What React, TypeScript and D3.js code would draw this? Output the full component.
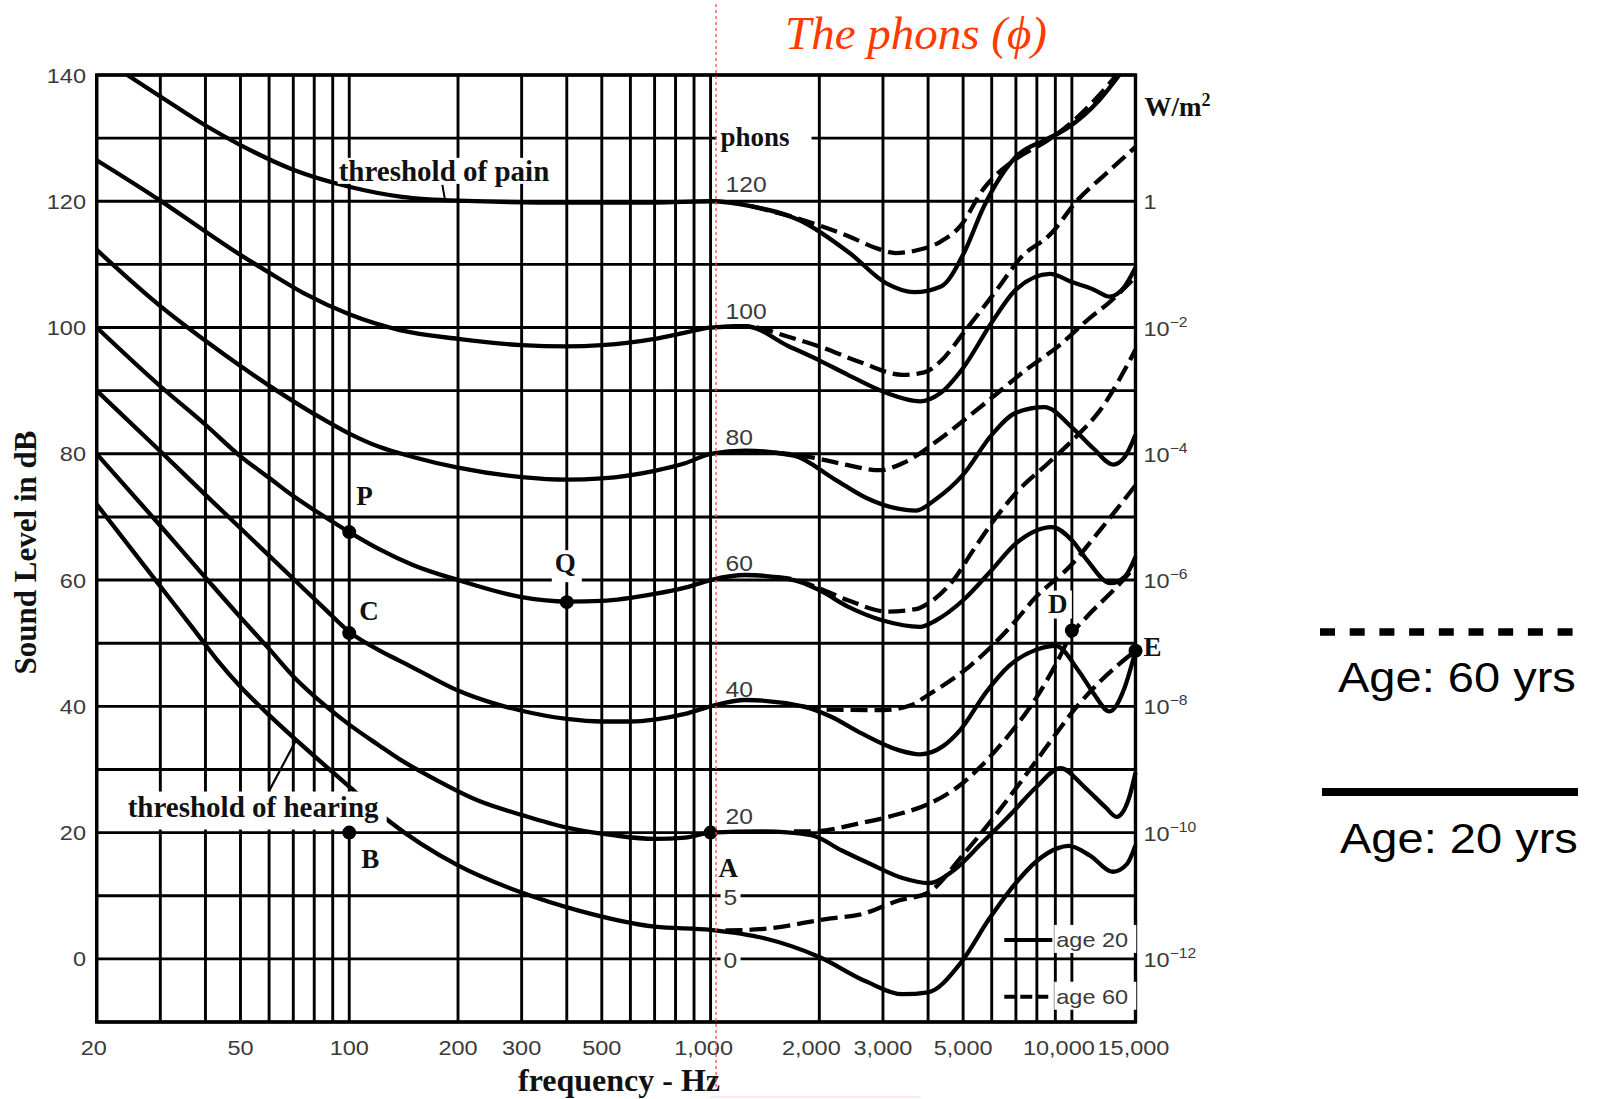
import React from "react";
import * as d3 from "d3";

type Pt = [number, number];

// ---------- axis data ----------
const gridFreqs = [20, 30, 40, 50, 60, 70, 80, 90, 100, 200, 300, 400, 500, 600, 700, 800, 900, 1000, 2000, 3000, 4000, 5000, 6000, 7000, 8000, 9000, 10000, 15000];
const gridLevels = [-10, 0, 10, 20, 30, 40, 50, 60, 70, 80, 90, 100, 110, 120, 130, 140];
const freqTicks = [20, 50, 100, 200, 300, 500, 1000, 2000, 3000, 5000, 10000, 15000];
const freqTickLabels = ["20", "50", "100", "200", "300", "500", "1,000", "2,000", "3,000", "5,000", "10,000", "15,000"];
const levelTicks = [0, 20, 40, 60, 80, 100, 120, 140];
const intensityLevels = [120, 100, 80, 60, 40, 20, 0];
const intensityBase = ["1", "10", "10", "10", "10", "10", "10"];
const intensityExp = ["", "\u22122", "\u22124", "\u22126", "\u22128", "\u221210", "\u221212"];
const phonLabelLevels = [120, 100, 80, 60, 40, 20];
const phonLabelTexts = ["120", "100", "80", "60", "40", "20"];

// ---------- curves: age 20 (solid) ----------
const age20_120: Pt[] = [[24.3, 140], [30, 136.6], [40, 132], [50, 128.9], [70, 125], [100, 122.3], [140, 120.7], [200, 120.1], [400, 119.8], [700, 119.8], [1000, 120], [1300, 119.2], [1764, 117], [2426, 111.8], [3067, 107], [3663, 105.6], [4343, 106.5], [5025, 111.8], [5700, 119.1], [7042, 127.2], [8500, 129.8], [9660, 131.5], [11900, 136], [13530, 140]];
const age20_100: Pt[] = [[20, 126.5], [30, 120.1], [40, 115.2], [50, 111.5], [60, 108.7], [75, 105.4], [100, 102.1], [138, 99.6], [200, 98.2], [300, 97.2], [400, 97], [500, 97.2], [700, 98.2], [850, 99.2], [1000, 100], [1250, 100.2], [1650, 97], [2000, 94.8], [2400, 92.5], [3050, 89.7], [3800, 88.3], [4300, 89.5], [5000, 93.6], [6000, 100.8], [7000, 106], [8700, 108.5], [10000, 107.2], [11500, 106], [12700, 104.9], [14000, 106.5], [15000, 109.5]];
const age20_80: Pt[] = [[20, 112.3], [30, 103.4], [40, 97.9], [50, 93.9], [60, 90.8], [80, 86.3], [100, 83.2], [121, 81.1], [150, 79.5], [200, 77.8], [300, 76.3], [400, 75.9], [500, 76.1], [700, 77.3], [850, 78.5], [1000, 80], [1250, 80.5], [1700, 79.7], [2200, 76], [2700, 73], [3300, 71.3], [3700, 71], [4200, 72.8], [5000, 76.7], [6000, 83], [7000, 86.5], [8400, 87.4], [10000, 84.2], [11500, 80.8], [13000, 78.3], [14000, 79.5], [15000, 83]];
const age20_60: Pt[] = [[20, 100], [30, 90.7], [40, 84.6], [50, 79.6], [60, 76.2], [70, 73.3], [84, 70.3], [100, 67.6], [121, 64.9], [150, 62.4], [200, 60], [300, 57.3], [400, 56.6], [500, 56.7], [700, 57.8], [850, 58.8], [1000, 60], [1250, 60.8], [1700, 60], [2000, 58.4], [2400, 55.8], [3000, 53.6], [3800, 52.6], [4200, 53.6], [5000, 56.8], [6000, 61.6], [7000, 65.8], [8800, 68.4], [10000, 66.3], [11000, 63.2], [12800, 59.5], [14000, 60.5], [15000, 63.7]];
const age20_40: Pt[] = [[20, 90], [30, 80.4], [40, 73.5], [50, 68.2], [70, 60.2], [85, 55.6], [100, 51.8], [120, 49], [138, 47.2], [160, 45.3], [200, 42.5], [250, 40.5], [300, 39.3], [400, 38], [500, 37.6], [600, 37.6], [700, 37.9], [850, 38.8], [1000, 40], [1250, 41], [1800, 40], [2150, 38.4], [2600, 35.8], [3300, 33.1], [3800, 32.4], [4400, 33.7], [4900, 36.2], [5800, 42.3], [6700, 46.4], [8000, 49], [9000, 49.6], [10500, 45.4], [11500, 42], [12700, 39.2], [14000, 43], [15000, 48.8]];
const age20_20: Pt[] = [[20, 80], [30, 68.6], [40, 60.4], [50, 54.1], [60, 49.1], [71.5, 44.2], [85, 40.3], [100, 37.1], [121, 33.8], [138, 31.6], [167, 28.9], [229, 25], [300, 22.8], [400, 20.8], [536, 19.6], [700, 19], [850, 19.2], [1000, 20], [1400, 20.2], [1900, 19.6], [2300, 17.2], [2800, 14.9], [3400, 12.8], [4000, 12], [4700, 14], [5600, 18.2], [6900, 23.4], [8000, 27.3], [9300, 30.2], [10800, 27.3], [12400, 24], [13300, 22.5], [14300, 25], [15000, 29.5]];
const age20_0: Pt[] = [[20, 72], [30, 59], [37, 52.3], [43, 47.4], [50, 43.1], [60, 38.6], [71.5, 34.6], [85, 30.8], [100, 27.3], [129, 21.8], [200, 14.8], [300, 10.5], [434, 7.6], [700, 5.1], [1000, 4.6], [1400, 3.3], [2000, 0.3], [2700, -3.6], [3400, -5.6], [4000, -5.3], [4900, -0.8], [5900, 6.3], [6900, 11.6], [8000, 15.5], [9100, 17.5], [9800, 17.9], [11200, 16.4], [13000, 13.8], [14200, 15], [15000, 18]];

// ---------- curves: age 60 (dashed) ----------
const age60_120: Pt[] = [[1300, 119.2], [1764, 117.2], [2400, 114.5], [2900, 112.5], [3250, 111.8], [3700, 112.2], [4300, 113.5], [4900, 116], [5700, 122], [7042, 126.8], [8500, 129.5], [9660, 131.8], [11900, 136.8], [13300, 140]];
const age60_100: Pt[] = [[1150, 100.2], [1300, 100.1], [1650, 98.5], [2000, 97], [2600, 94.5], [3400, 92.5], [3900, 92.9], [4340, 94.7], [5020, 99.2], [6200, 106], [7200, 111], [8800, 115], [10300, 120], [12500, 124.5], [15000, 128.6]];
const age60_80: Pt[] = [[1500, 80.2], [1700, 79.9], [2000, 79.2], [2400, 78.2], [2937, 77.4], [3400, 78.5], [4300, 82.3], [5200, 86], [6100, 89.2], [7500, 93.4], [9200, 97.1], [11200, 101.5], [12700, 104], [15000, 108]];
const age60_60: Pt[] = [[1500, 60.5], [1700, 60.1], [2000, 58.7], [2400, 56.8], [3100, 55], [3700, 55.4], [4000, 56.3], [4700, 60], [5300, 64.5], [6000, 69], [7000, 73.8], [8670, 78.7], [10400, 83], [11860, 86.6], [15000, 96.5]];
const age60_40: Pt[] = [[1800, 40], [2100, 39.5], [3000, 39.4], [3600, 40.2], [4000, 41.8], [5200, 46.3], [7000, 53.6], [7800, 56.8], [10000, 62.5], [12000, 68], [15000, 75]];
const age60_20: Pt[] = [[1700, 20.2], [1900, 20.2], [2600, 21.5], [3300, 22.9], [4000, 24.5], [4900, 27.5], [5600, 30.5], [6700, 35.5], [8000, 41.5], [9000, 46.5], [10000, 51.5], [11000, 54.2], [13300, 58.9], [15000, 62.2]];
const age60_0: Pt[] = [[1100, 4.5], [1370, 4.7], [2150, 6.4], [2585, 7], [3300, 9.2], [4000, 10.5], [5000, 16.5], [6000, 22], [7000, 27], [8000, 31.5], [9000, 35.5], [10000, 39], [12000, 44], [15000, 48.8]];

// ---------- marked points ----------
const pointNames = ["P", "Q", "C", "B", "A", "D", "E"];
const pointFreqs = [100, 400, 100, 100, 1000, 10000, 15000];
const pointLevels = [67.6, 56.5, 51.6, 20, 20, 52, 48.8];

const solidCurves = [age20_120, age20_100, age20_80, age20_60, age20_40, age20_20, age20_0];
const dashedCurves = [age60_120, age60_100, age60_80, age60_60, age60_40, age60_20, age60_0];

const W = 1604;
const H = 1099;
const SANS = "'Liberation Sans', Arial, Helvetica, sans-serif";
const SERIF = "'Liberation Serif', 'Times New Roman', Times, serif";
const SX = 1.12; // horizontal stretch of the scanned sans labels
const GRAY = "#3a3a3a";

const x = d3.scaleLog().domain([20, 15000]).range([96.7, 1135.5]);
const y = d3.scaleLinear().domain([-10, 140]).range([1022, 75]);

const line = d3
  .line<Pt>()
  .x((d) => x(d[0]))
  .y((d) => y(d[1]))
  .curve(d3.curveMonotoneX);

function SText(props: {
  x: number;
  y: number;
  size: number;
  anchor?: "start" | "middle" | "end";
  fill?: string;
  children: React.ReactNode;
}) {
  const { x: tx, y: ty, size, anchor = "start", fill = GRAY, children } = props;
  return (
    <text
      transform={`translate(${tx},${ty}) scale(${SX},1)`}
      fontFamily={SANS}
      fontSize={size}
      textAnchor={anchor}
      fill={fill}
    >
      {children}
    </text>
  );
}

const labelShift: Record<number, number> = { 20: -3, 1000: -7, 2000: -8, 10000: -13, 15000: -2 };

export default function App() {
  const x0 = x(20);
  const x1 = x(15000);
  const yTop = y(140);
  const yBot = y(-10);

  const pts = pointNames.map((n, i) => ({ n, cx: x(pointFreqs[i]), cy: y(pointLevels[i]) }));
  const ptOffsets: Record<string, [number, number]> = {
    P: [7, -27],
    Q: [-12, -30],
    C: [10, -13],
    B: [12, 35],
    A: [8, 44],
    D: [-24, -18],
    E: [8, 5],
  };
  const legX = x(6500);

  return (
    <svg
      width={W}
      height={H}
      viewBox={`0 0 ${W} ${H}`}
      style={{ position: "absolute", left: 0, top: 0, background: "#fff" }}
    >
      <rect x={0} y={0} width={W} height={H} fill="#fff" />

      {/* grid */}
      <g stroke="#000" strokeWidth={2.9}>
        {gridFreqs.map((f) => (
          <line key={"v" + f} x1={x(f)} x2={x(f)} y1={yTop} y2={yBot} />
        ))}
        {gridLevels.map((l) => (
          <line key={"h" + l} x1={x0} x2={x1} y1={y(l)} y2={y(l)} />
        ))}
      </g>
      <rect x={x0} y={yTop} width={x1 - x0} height={yBot - yTop} fill="none" stroke="#000" strokeWidth={3.4} />

      {/* boxes interrupting grid */}
      <g fill="#fff">
        <rect x={x(1000) + 6} y={y(130) - 13} width={95} height={26} />
        <rect x={x(1000) + 10} y={y(10) - 12} width={20} height={24} />
        <rect x={x(1000) + 10} y={y(0) - 12} width={20} height={24} />
        <rect x={legX + 50} y={y(3) - 15} width={82} height={28} />
        <rect x={legX + 50} y={y(-6) - 15} width={82} height={28} />
        <rect x={pts[0].cx + 5} y={pts[0].cy - 47} width={22} height={26} />
        <rect x={pts[1].cx - 15} y={pts[1].cy - 52} width={30} height={32} />
        <rect x={pts[2].cx + 8} y={pts[2].cy - 33} width={22} height={26} />
        <rect x={pts[3].cx + 9} y={pts[3].cy + 14} width={24} height={26} />
        <rect x={pts[5].cx - 28} y={pts[5].cy - 40} width={28} height={28} />
      </g>

      {/* curves */}
      <g fill="none" stroke="#000" strokeWidth={4.3} strokeLinejoin="round">
        {solidCurves.map((c, i) => (
          <path key={"s" + i} d={line(c) || ""} />
        ))}
        {dashedCurves.map((c, i) => (
          <path key={"d" + i} d={line(c) || ""} strokeDasharray="17 7" />
        ))}
      </g>

      {/* label boxes hiding what is under them */}
      <rect x={x(20) + 24} y={y(26.5)} width={266} height={38} fill="#fff" />
      <rect x={x(20) + 241} y={y(122.6) - 27} width={218} height={26} fill="#fff" />
      <line x1={x(60)} y1={y(26.6)} x2={x(71.5)} y2={y(34.8)} stroke="#000" strokeWidth={2.2} />
      <line x1={x(181)} y1={y(122.6)} x2={x(184)} y2={y(120.3)} stroke="#000" strokeWidth={2} />

      {/* serif annotations */}
      <g fontFamily={SERIF} fontWeight="bold" fill="#111">
        <text x={x(20) + 242} y={y(122.6) - 4} fontSize={29}>threshold of pain</text>
        <text x={x(20) + 31} y={y(22.5)} fontSize={29}>threshold of hearing</text>
        <text x={x(1000) + 10} y={y(128.8)} fontSize={27}>phons</text>
        {pts.map((p) => (
          <text key={"t" + p.n} x={p.cx + ptOffsets[p.n][0]} y={p.cy + ptOffsets[p.n][1]} fontSize={27}>
            {p.n}
          </text>
        ))}
        <text x={x1 + 9} y={y(140) + 41} fontSize={27}>
          W/m<tspan dy={-10} fontSize={18}>2</tspan>
        </text>
        <text x={619} y={1091} fontSize={32} textAnchor="middle">
          frequency - Hz
        </text>
        <text
          transform={`translate(${36},${(y(140) + yBot) / 2 + 4}) rotate(-90)`}
          fontSize={31}
          textAnchor="middle"
        >
          Sound Level in dB
        </text>
      </g>

      {/* dots */}
      <g fill="#000">
        {pts.map((p) => (
          <circle key={"c" + p.n} cx={p.cx} cy={p.cy} r={7} />
        ))}
      </g>

      {/* tick labels */}
      {levelTicks.map((l) => (
        <SText key={"yl" + l} x={86} y={y(l) + 7.5} size={21} anchor="end">
          {String(l)}
        </SText>
      ))}
      {freqTicks.map((f, i) => (
        <SText key={"xl" + f} x={x(f) + (labelShift[f] || 0)} y={1055} size={21} anchor="middle">
          {freqTickLabels[i]}
        </SText>
      ))}
      {intensityLevels.map((l, i) => (
        <SText key={"il" + l} x={x1 + 8} y={y(l) + 8} size={21}>
          {intensityBase[i]}
          {intensityExp[i] && (
            <tspan dy={-9} fontSize={14}>
              {intensityExp[i]}
            </tspan>
          )}
        </SText>
      ))}
      {phonLabelLevels.map((l, i) => (
        <SText key={"pl" + l} x={x(1000) + 15} y={y(l) - 9} size={22}>
          {phonLabelTexts[i]}
        </SText>
      ))}
      <SText x={x(1000) + 13} y={y(10) + 9} size={22}>5</SText>
      <SText x={x(1000) + 13} y={y(0) + 9} size={22}>0</SText>

      {/* inner legend */}
      <line x1={legX} x2={legX + 48} y1={y(3)} y2={y(3)} stroke="#000" strokeWidth={4} />
      <line x1={legX} x2={legX + 48} y1={y(-6)} y2={y(-6)} stroke="#000" strokeWidth={4} strokeDasharray="12 4" />
      <SText x={legX + 52} y={y(3) + 7} size={21}>age 20</SText>
      <SText x={legX + 52} y={y(-6) + 7} size={21}>age 60</SText>

      {/* red annotation */}
      <line x1={x(1000) + 5.5} x2={x(1000) + 5.5} y1={4} y2={1090} stroke="#ff5050" strokeWidth={1.3} strokeDasharray="3 3" />
      <line x1={x(1000)} x2={x(1000) + 210} y1={1097} y2={1097} stroke="#ffd0d0" strokeWidth={1} />
      <text x={916} y={49} fontFamily={SERIF} fontStyle="italic" fontSize={47} fill="#ff3a00" textAnchor="middle">
        {"The phons (\u03D5)"}
      </text>

      {/* outer legend */}
      <line x1={1320} x2={1574} y1={632} y2={632} stroke="#000" strokeWidth={7.5} strokeDasharray="15 14.7" />
      <SText x={1338} y={692} size={42} fill="#000">Age: 60 yrs</SText>
      <line x1={1322} x2={1578} y1={792} y2={792} stroke="#000" strokeWidth={8} />
      <SText x={1340} y={853} size={42} fill="#000">Age: 20 yrs</SText>
    </svg>
  );
}
